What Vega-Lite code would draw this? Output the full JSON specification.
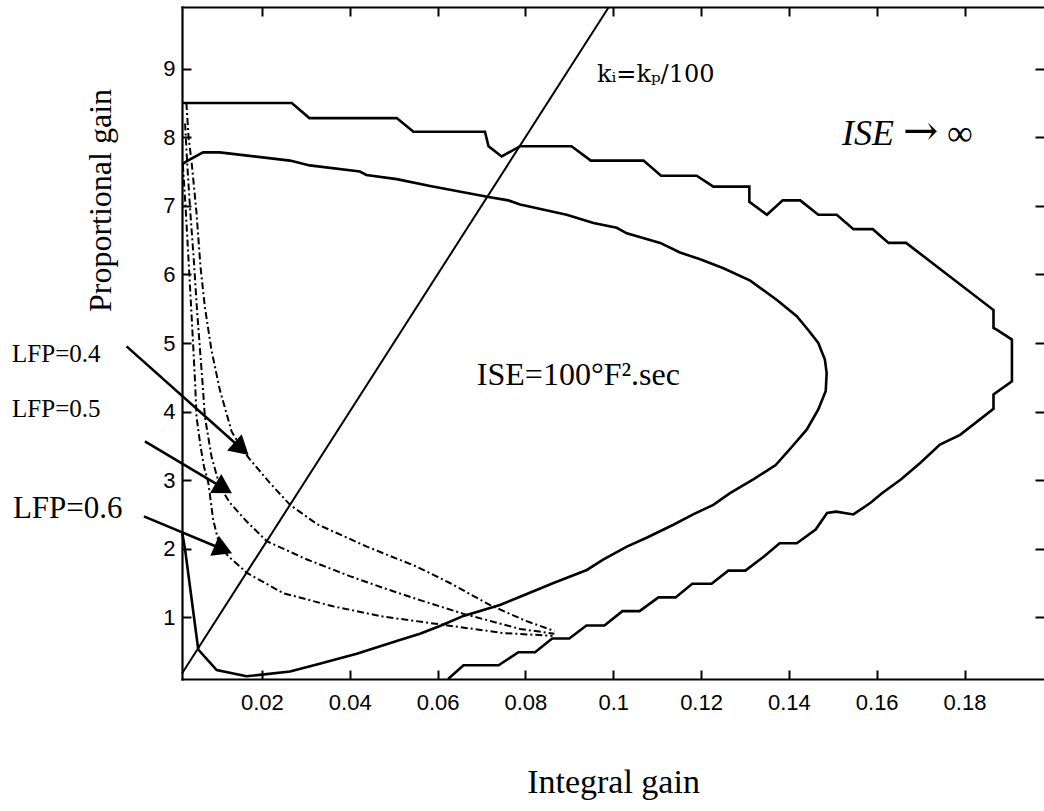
{
  "$schema": "https://vega.github.io/schema/vega-lite/v6.json",
  "width": 862,
  "height": 672,
  "autosize": "none",
  "padding": {"left": 182, "top": 7, "right": 0, "bottom": 132},
  "background": "white",
  "config": {
    "view": {"stroke": null},
    "axis": {"grid": false, "domainColor": "black", "domainWidth": 2.2, "domainCap": "square", "tickColor": "black", "tickWidth": 2, "labelColor": "black", "labelFont": "Liberation Sans", "labelFontSize": 22, "titleFont": "Liberation Serif", "titleFontWeight": "normal", "titleFontSize": 32, "titleColor": "black"}
  },
  "datasets": {
    "solid": [
      {"c":"outer","i":0,"x":0.0018,"y":8.5},{"c":"outer","i":1,"x":0.0268,"y":8.5},{"c":"outer","i":2,"x":0.0308,"y":8.28},{"c":"outer","i":3,"x":0.0507,"y":8.28},{"c":"outer","i":4,"x":0.0545,"y":8.08},{"c":"outer","i":5,"x":0.0708,"y":8.08},{"c":"outer","i":6,"x":0.0716,"y":7.87},{"c":"outer","i":7,"x":0.0746,"y":7.72},{"c":"outer","i":8,"x":0.0788,"y":7.87},{"c":"outer","i":9,"x":0.0905,"y":7.87},{"c":"outer","i":10,"x":0.0949,"y":7.66},{"c":"outer","i":11,"x":0.1069,"y":7.66},{"c":"outer","i":12,"x":0.1109,"y":7.44},{"c":"outer","i":13,"x":0.119,"y":7.44},{"c":"outer","i":14,"x":0.1228,"y":7.28},{"c":"outer","i":15,"x":0.131,"y":7.28},{"c":"outer","i":16,"x":0.131,"y":7.06},{"c":"outer","i":17,"x":0.135,"y":6.87},{"c":"outer","i":18,"x":0.1386,"y":7.08},{"c":"outer","i":19,"x":0.1426,"y":7.08},{"c":"outer","i":20,"x":0.1467,"y":6.87},{"c":"outer","i":21,"x":0.1509,"y":6.87},{"c":"outer","i":22,"x":0.1547,"y":6.66},{"c":"outer","i":23,"x":0.1591,"y":6.66},{"c":"outer","i":24,"x":0.1627,"y":6.46},{"c":"outer","i":25,"x":0.1667,"y":6.46},{"c":"outer","i":26,"x":0.1866,"y":5.48},{"c":"outer","i":27,"x":0.1866,"y":5.22},{"c":"outer","i":28,"x":0.1874,"y":5.19},{"c":"outer","i":29,"x":0.1908,"y":5.05},{"c":"outer","i":30,"x":0.1908,"y":4.44},{"c":"outer","i":31,"x":0.1866,"y":4.25},{"c":"outer","i":32,"x":0.1866,"y":4.04},{"c":"outer","i":33,"x":0.179,"y":3.66},{"c":"outer","i":34,"x":0.1744,"y":3.52},{"c":"outer","i":35,"x":0.1699,"y":3.25},{"c":"outer","i":36,"x":0.1655,"y":3.01},{"c":"outer","i":37,"x":0.1612,"y":2.81},{"c":"outer","i":38,"x":0.1586,"y":2.67},{"c":"outer","i":39,"x":0.1547,"y":2.5},{"c":"outer","i":40,"x":0.1508,"y":2.54},{"c":"outer","i":41,"x":0.1487,"y":2.52},{"c":"outer","i":42,"x":0.1461,"y":2.28},{"c":"outer","i":43,"x":0.1418,"y":2.08},{"c":"outer","i":44,"x":0.1379,"y":2.08},{"c":"outer","i":45,"x":0.1344,"y":1.89},{"c":"outer","i":46,"x":0.1301,"y":1.68},{"c":"outer","i":47,"x":0.1262,"y":1.68},{"c":"outer","i":48,"x":0.1224,"y":1.49},{"c":"outer","i":49,"x":0.118,"y":1.49},{"c":"outer","i":50,"x":0.1142,"y":1.29},{"c":"outer","i":51,"x":0.1103,"y":1.29},{"c":"outer","i":52,"x":0.106,"y":1.09},{"c":"outer","i":53,"x":0.1021,"y":1.09},{"c":"outer","i":54,"x":0.098,"y":0.88},{"c":"outer","i":55,"x":0.0939,"y":0.88},{"c":"outer","i":56,"x":0.09,"y":0.69},{"c":"outer","i":57,"x":0.0861,"y":0.69},{"c":"outer","i":58,"x":0.0822,"y":0.49},{"c":"outer","i":59,"x":0.0784,"y":0.49},{"c":"outer","i":60,"x":0.0739,"y":0.3},{"c":"outer","i":61,"x":0.0659,"y":0.3},{"c":"outer","i":62,"x":0.0624,"y":0.1},
      {"c":"inner","i":0,"x":0.0018,"y":7.6},{"c":"inner","i":1,"x":0.0028,"y":7.65},{"c":"inner","i":2,"x":0.0066,"y":7.78},{"c":"inner","i":3,"x":0.0104,"y":7.78},{"c":"inner","i":4,"x":0.0264,"y":7.66},{"c":"inner","i":5,"x":0.0309,"y":7.59},{"c":"inner","i":6,"x":0.0423,"y":7.5},{"c":"inner","i":7,"x":0.0438,"y":7.45},{"c":"inner","i":8,"x":0.0507,"y":7.39},{"c":"inner","i":9,"x":0.0583,"y":7.29},{"c":"inner","i":10,"x":0.0716,"y":7.13},{"c":"inner","i":11,"x":0.0761,"y":7.08},{"c":"inner","i":12,"x":0.0788,"y":7.02},{"c":"inner","i":13,"x":0.0894,"y":6.87},{"c":"inner","i":14,"x":0.0955,"y":6.75},{"c":"inner","i":15,"x":0.1008,"y":6.68},{"c":"inner","i":16,"x":0.1031,"y":6.6},{"c":"inner","i":17,"x":0.1107,"y":6.46},{"c":"inner","i":18,"x":0.1152,"y":6.32},{"c":"inner","i":19,"x":0.1198,"y":6.22},{"c":"inner","i":20,"x":0.1251,"y":6.09},{"c":"inner","i":21,"x":0.1312,"y":5.91},{"c":"inner","i":22,"x":0.1372,"y":5.63},{"c":"inner","i":23,"x":0.1418,"y":5.39},{"c":"inner","i":24,"x":0.1444,"y":5.19},{"c":"inner","i":25,"x":0.1467,"y":5.0},{"c":"inner","i":26,"x":0.1482,"y":4.76},{"c":"inner","i":27,"x":0.1486,"y":4.56},{"c":"inner","i":28,"x":0.1484,"y":4.3},{"c":"inner","i":29,"x":0.1467,"y":4.03},{"c":"inner","i":30,"x":0.1441,"y":3.74},{"c":"inner","i":31,"x":0.1406,"y":3.48},{"c":"inner","i":32,"x":0.137,"y":3.22},{"c":"inner","i":33,"x":0.1319,"y":3.01},{"c":"inner","i":34,"x":0.1266,"y":2.81},{"c":"inner","i":35,"x":0.1228,"y":2.64},{"c":"inner","i":36,"x":0.1182,"y":2.5},{"c":"inner","i":37,"x":0.1137,"y":2.35},{"c":"inner","i":38,"x":0.1076,"y":2.16},{"c":"inner","i":39,"x":0.1031,"y":2.03},{"c":"inner","i":40,"x":0.0977,"y":1.84},{"c":"inner","i":41,"x":0.094,"y":1.69},{"c":"inner","i":42,"x":0.0864,"y":1.5},{"c":"inner","i":43,"x":0.0788,"y":1.3},{"c":"inner","i":44,"x":0.0742,"y":1.18},{"c":"inner","i":45,"x":0.0659,"y":1.02},{"c":"inner","i":46,"x":0.0608,"y":0.88},{"c":"inner","i":47,"x":0.056,"y":0.76},{"c":"inner","i":48,"x":0.0514,"y":0.67},{"c":"inner","i":49,"x":0.0416,"y":0.47},{"c":"inner","i":50,"x":0.0325,"y":0.31},{"c":"inner","i":51,"x":0.0264,"y":0.21},{"c":"inner","i":52,"x":0.0195,"y":0.16},{"c":"inner","i":53,"x":0.0165,"y":0.14},{"c":"inner","i":54,"x":0.0097,"y":0.23},{"c":"inner","i":55,"x":0.0055,"y":0.53},{"c":"inner","i":56,"x":0.0025,"y":1.99},{"c":"inner","i":57,"x":0.0018,"y":2.25},
      {"c":"kline","i":0,"x":0.0018,"y":0.18},{"c":"kline","i":1,"x":0.099,"y":9.9}
    ],
    "lfp": [
      {"c":"0.4","i":0,"x":0.0028,"y":8.5},{"c":"0.4","i":1,"x":0.0033,"y":8.0},{"c":"0.4","i":2,"x":0.004,"y":7.63},{"c":"0.4","i":3,"x":0.0051,"y":6.9},{"c":"0.4","i":4,"x":0.006,"y":6.12},{"c":"0.4","i":5,"x":0.007,"y":5.53},{"c":"0.4","i":6,"x":0.0085,"y":4.9},{"c":"0.4","i":7,"x":0.0104,"y":4.32},{"c":"0.4","i":8,"x":0.0131,"y":3.71},{"c":"0.4","i":9,"x":0.0155,"y":3.45},{"c":"0.4","i":10,"x":0.0173,"y":3.3},{"c":"0.4","i":11,"x":0.0218,"y":2.96},{"c":"0.4","i":12,"x":0.0264,"y":2.64},{"c":"0.4","i":13,"x":0.0325,"y":2.36},{"c":"0.4","i":14,"x":0.0439,"y":2.03},{"c":"0.4","i":15,"x":0.0552,"y":1.74},{"c":"0.4","i":16,"x":0.0628,"y":1.5},{"c":"0.4","i":17,"x":0.0719,"y":1.18},{"c":"0.4","i":18,"x":0.08,"y":0.95},{"c":"0.4","i":19,"x":0.0866,"y":0.8},
      {"c":"0.5","i":0,"x":0.0025,"y":8.2},{"c":"0.5","i":1,"x":0.003,"y":7.6},{"c":"0.5","i":2,"x":0.0037,"y":6.9},{"c":"0.5","i":3,"x":0.0045,"y":6.2},{"c":"0.5","i":4,"x":0.0052,"y":5.5},{"c":"0.5","i":5,"x":0.0059,"y":4.9},{"c":"0.5","i":6,"x":0.0065,"y":4.4},{"c":"0.5","i":7,"x":0.007,"y":3.93},{"c":"0.5","i":8,"x":0.0085,"y":3.35},{"c":"0.5","i":9,"x":0.0104,"y":2.91},{"c":"0.5","i":10,"x":0.0127,"y":2.67},{"c":"0.5","i":11,"x":0.0165,"y":2.4},{"c":"0.5","i":12,"x":0.0211,"y":2.11},{"c":"0.5","i":13,"x":0.03,"y":1.85},{"c":"0.5","i":14,"x":0.04,"y":1.6},{"c":"0.5","i":15,"x":0.048,"y":1.42},{"c":"0.5","i":16,"x":0.056,"y":1.25},{"c":"0.5","i":17,"x":0.0659,"y":1.05},{"c":"0.5","i":18,"x":0.0788,"y":0.83},{"c":"0.5","i":19,"x":0.0866,"y":0.76},
      {"c":"0.6","i":0,"x":0.002,"y":7.6},{"c":"0.6","i":1,"x":0.0026,"y":7.0},{"c":"0.6","i":2,"x":0.0033,"y":6.2},{"c":"0.6","i":3,"x":0.0039,"y":5.5},{"c":"0.6","i":4,"x":0.0044,"y":4.9},{"c":"0.6","i":5,"x":0.0048,"y":4.4},{"c":"0.6","i":6,"x":0.0051,"y":3.93},{"c":"0.6","i":7,"x":0.006,"y":3.5},{"c":"0.6","i":8,"x":0.0068,"y":3.2},{"c":"0.6","i":9,"x":0.0078,"y":2.96},{"c":"0.6","i":10,"x":0.0089,"y":2.42},{"c":"0.6","i":11,"x":0.0104,"y":2.03},{"c":"0.6","i":12,"x":0.0125,"y":1.88},{"c":"0.6","i":13,"x":0.015,"y":1.74},{"c":"0.6","i":14,"x":0.0165,"y":1.65},{"c":"0.6","i":15,"x":0.0249,"y":1.35},{"c":"0.6","i":16,"x":0.0362,"y":1.16},{"c":"0.6","i":17,"x":0.0476,"y":1.01},{"c":"0.6","i":18,"x":0.0613,"y":0.89},{"c":"0.6","i":19,"x":0.075,"y":0.77},{"c":"0.6","i":20,"x":0.0862,"y":0.73}
    ],
    "arrows": [
      {"lab":"0.4","x":-0.01082,"y":4.951,"x2":0.01535,"y2":3.459},
      {"lab":"0.5","x":-0.00665,"y":3.565,"x2":0.01132,"y2":2.88},
      {"lab":"0.6","x":-0.00688,"y":2.471,"x2":0.01121,"y2":1.989}
    ],
    "labels": [
      {"t":"LFP=0.4","x":-0.0369,"y":4.727},
      {"t":"LFP=0.5","x":-0.0369,"y":3.925},
      {"t":"LFP=0.6","x":-0.0367,"y":2.452},
      {"t":"kᵢ=kₚ/100","x":0.0963,"y":8.811},
      {"t":"ISE=100°F².sec","x":0.1152,"y":4.392},
      {"t":"ISE","x":0.1521,"y":7.892},
      {"t":"→","x":0.1660,"y":7.892},
      {"t":"∞","x":0.1760,"y":7.892}
    ]
  },
  "resolve": {"axis": {"x": "independent", "y": "independent"}},
  "layer": [
    {
      "data": {"name": "solid"},
      "transform": [{"filter": "datum.c !== 'kline'"}],
      "mark": {"type": "line", "color": "black", "strokeWidth": 2.6},
      "encoding": {
        "x": {"field": "x", "type": "quantitative", "scale": {"domain": [0.0018, 0.1981], "nice": false, "zero": false},
          "axis": {"orient": "bottom", "values": [0.02, 0.04, 0.06, 0.08, 0.1, 0.12, 0.14, 0.16, 0.18], "format": "~g", "ticks": false, "tickSize": 0, "labelPadding": 13, "domain": true, "title": "Integral gain", "titleFontSize": 34, "titleY": 103, "titleBaseline": "middle", "titleAnchor": "middle"}},
        "y": {"field": "y", "type": "quantitative", "scale": {"domain": [0.1, 9.9], "nice": false, "zero": false},
          "axis": {"orient": "left", "values": [1, 2, 3, 4, 5, 6, 7, 8, 9], "ticks": false, "tickSize": 0, "labelPadding": 7, "domain": true, "title": "Proportional gain", "titleX": -82, "titleY": 193, "titleAngle": 270, "titleAlign": "center", "titleBaseline": "middle"}},
        "detail": {"field": "c"},
        "order": {"field": "i", "type": "quantitative"}
      }
    },
    {
      "data": {"name": "lfp"},
      "mark": {"type": "line", "color": "black", "strokeWidth": 2, "strokeDash": [7, 3, 2, 3]},
      "encoding": {
        "x": {"field": "x", "type": "quantitative", "axis": {"orient": "top", "values": [0.02, 0.04, 0.06, 0.08, 0.1, 0.12, 0.14, 0.16, 0.18], "labels": false, "ticks": false, "domain": true, "title": null}},
        "y": {"field": "y", "type": "quantitative", "axis": {"orient": "right", "values": [1, 2, 3, 4, 5, 6, 7, 8, 9], "labels": false, "ticks": true, "tickSize": 9, "offset": -9, "domain": false, "title": null}},
        "detail": {"field": "c"},
        "order": {"field": "i", "type": "quantitative"}
      }
    },
    {
      "data": {"name": "solid"},
      "transform": [{"filter": "datum.c === 'kline'"}],
      "mark": {"type": "line", "color": "black", "strokeWidth": 2},
      "encoding": {
        "x": {"field": "x", "type": "quantitative", "axis": {"orient": "top", "values": [0.02, 0.04, 0.06, 0.08, 0.1, 0.12, 0.14, 0.16, 0.18], "labels": false, "ticks": true, "tickSize": 9, "offset": -9, "domain": false, "title": null}},
        "y": {"field": "y", "type": "quantitative", "axis": {"orient": "left", "values": [1, 2, 3, 4, 5, 6, 7, 8, 9], "labels": false, "ticks": true, "tickSize": 9, "offset": -9, "domain": false, "title": null}},
        "order": {"field": "i", "type": "quantitative"}
      }
    },
    {
      "data": {"name": "arrows"},
      "mark": {"type": "rule", "color": "black", "strokeWidth": 2.6},
      "encoding": {
        "x": {"field": "x", "type": "quantitative", "axis": {"orient": "bottom", "values": [0.02, 0.04, 0.06, 0.08, 0.1, 0.12, 0.14, 0.16, 0.18], "labels": false, "ticks": true, "tickSize": 9, "offset": -9, "domain": false, "title": null}},
        "y": {"field": "y", "type": "quantitative", "axis": null},
        "x2": {"field": "x2"},
        "y2": {"field": "y2"}
      }
    },
    {
      "data": {"name": "arrows"},
      "transform": [{"filter": "datum.lab === '0.4'"}],
      "mark": {"type": "point", "shape": "triangle-right", "filled": true, "color": "black", "opacity": 1, "size": 480, "angle": 41.7},
      "encoding": {
        "x": {"field": "x2", "type": "quantitative", "axis": null},
        "y": {"field": "y2", "type": "quantitative", "axis": null}
      }
    },
    {
      "data": {"name": "arrows"},
      "transform": [{"filter": "datum.lab === '0.5'"}],
      "mark": {"type": "point", "shape": "triangle-right", "filled": true, "color": "black", "opacity": 1, "size": 480, "angle": 30.8},
      "encoding": {
        "x": {"field": "x2", "type": "quantitative", "axis": null},
        "y": {"field": "y2", "type": "quantitative", "axis": null}
      }
    },
    {
      "data": {"name": "arrows"},
      "transform": [{"filter": "datum.lab === '0.6'"}],
      "mark": {"type": "point", "shape": "triangle-right", "filled": true, "color": "black", "opacity": 1, "size": 480, "angle": 22.9},
      "encoding": {
        "x": {"field": "x2", "type": "quantitative", "axis": null},
        "y": {"field": "y2", "type": "quantitative", "axis": null}
      }
    },
    {
      "data": {"name": "labels"},
      "transform": [{"filter": "datum.t === 'LFP=0.4' || datum.t === 'LFP=0.5'"}],
      "mark": {"type": "text", "font": "Liberation Serif", "fontSize": 25, "align": "left", "baseline": "alphabetic", "color": "black"},
      "encoding": {
        "x": {"field": "x", "type": "quantitative", "axis": null},
        "y": {"field": "y", "type": "quantitative", "axis": null},
        "text": {"field": "t"}
      }
    },
    {
      "data": {"name": "labels"},
      "transform": [{"filter": "datum.t === 'LFP=0.6'"}],
      "mark": {"type": "text", "font": "Liberation Serif", "fontSize": 31, "align": "left", "baseline": "alphabetic", "color": "black"},
      "encoding": {
        "x": {"field": "x", "type": "quantitative", "axis": null},
        "y": {"field": "y", "type": "quantitative", "axis": null},
        "text": {"field": "t"}
      }
    },
    {
      "data": {"name": "labels"},
      "transform": [{"filter": "datum.t === 'kᵢ=kₚ/100'"}],
      "mark": {"type": "text", "font": "DejaVu Serif", "fontSize": 24, "align": "left", "baseline": "alphabetic", "color": "black"},
      "encoding": {
        "x": {"field": "x", "type": "quantitative", "axis": null},
        "y": {"field": "y", "type": "quantitative", "axis": null},
        "text": {"field": "t"}
      }
    },
    {
      "data": {"name": "labels"},
      "transform": [{"filter": "datum.t === 'ISE=100°F².sec'"}],
      "mark": {"type": "text", "font": "Liberation Serif", "fontSize": 32, "align": "right", "baseline": "alphabetic", "color": "black"},
      "encoding": {
        "x": {"field": "x", "type": "quantitative", "axis": null},
        "y": {"field": "y", "type": "quantitative", "axis": null},
        "text": {"field": "t"}
      }
    },
    {
      "data": {"name": "labels"},
      "transform": [{"filter": "datum.t === 'ISE'"}],
      "mark": {"type": "text", "font": "Liberation Serif", "fontStyle": "italic", "fontSize": 36, "align": "left", "baseline": "alphabetic", "color": "black"},
      "encoding": {
        "x": {"field": "x", "type": "quantitative", "axis": null},
        "y": {"field": "y", "type": "quantitative", "axis": null},
        "text": {"field": "t"}
      }
    },
    {
      "data": {"name": "labels"},
      "transform": [{"filter": "datum.t === '→'"}],
      "mark": {"type": "text", "font": "DejaVu Serif", "fontSize": 42, "align": "left", "baseline": "alphabetic", "color": "black"},
      "encoding": {
        "x": {"field": "x", "type": "quantitative", "axis": null},
        "y": {"field": "y", "type": "quantitative", "axis": null},
        "text": {"field": "t"}
      }
    },
    {
      "data": {"name": "labels"},
      "transform": [{"filter": "datum.t === '∞'"}],
      "mark": {"type": "text", "font": "Liberation Serif", "fontSize": 36, "align": "left", "baseline": "alphabetic", "color": "black"},
      "encoding": {
        "x": {"field": "x", "type": "quantitative", "axis": null},
        "y": {"field": "y", "type": "quantitative", "axis": null},
        "text": {"field": "t"}
      }
    }
  ]
}
